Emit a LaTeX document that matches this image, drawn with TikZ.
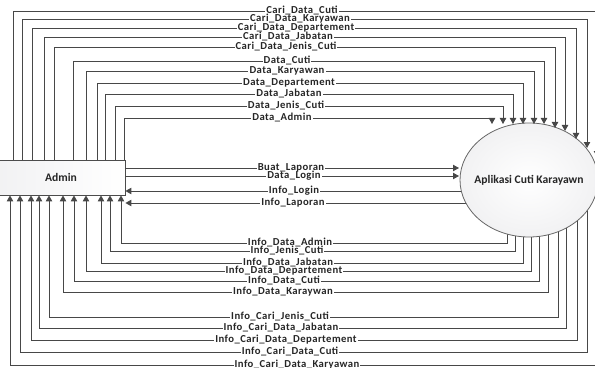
\documentclass[tikz,border=0pt]{standalone}
\usepackage{fontspec}
\setmainfont{Carlito}
\newfontfamily\lblfont[LetterSpace=4]{Carlito}
\usetikzlibrary{arrows.meta,shapes.geometric}
\pgfdeclarelayer{background}
\pgfsetlayers{background,main}
\tikzset{
  conn/.style={draw=black!72, line width=0.7pt},
  arr/.style={conn, -{Triangle[length=4.5pt,width=4.8pt]}},
  lbl/.style={font=\lblfont\bfseries\fontsize{8}{9}\selectfont, fill=white, inner xsep=0.8pt, inner ysep=0.6pt,
    text height=3.4pt, text depth=0pt, text=black!85},
  adminbox/.style={draw=black!70, line width=0.6pt, left color=blue!6!gray!10, right color=white,
    minimum width=96pt, minimum height=26.25pt, inner sep=0pt},
  proc/.style={ellipse, draw=black!60, line width=0.6pt, inner color=white, outer color=blue!5!gray!10,
    minimum width=103.5pt, minimum height=85.5pt, inner sep=0pt},
  ptext/.style={font=\bfseries\fontsize{8.7}{10}\selectfont, text=black!85, inner sep=0pt}
}
\begin{document}
\begin{tikzpicture}[x=0.75pt, y=-0.75pt]
\useasboundingbox (0,0) rectangle (595,367);
\clip (0,0) rectangle (595,367);

\node[adminbox] (admin) at (61,177.5) {};
\node[ptext] (admintext) at (admin.center) {Admin};
\node[proc] (c) at (529,180) {};
\node[ptext] (ctext) at (c.center) {Aplikasi Cuti Karayawn};

% Admin -> process (top)
\foreach \t/\y/\xl/\xr/\ty/\lx [count=\i] in {
  Cari\_Data\_Cuti/11/13/597/157/302,
  Cari\_Data\_Karyawan/19/22/587/148/300,
  Cari\_Data\_Departement/28/32/576/139/296,
  Cari\_Data\_Jabatan/37/44/565/131/288,
  Cari\_Data\_Jenis\_Cuti/47/54/555/128/286,
  Data\_Cuti/61/73/544/124/287,
  Data\_Karyawan/71/86/534/124/287,
  Data\_Departement/83/97/523/124/289,
  Data\_Jabatan/94/105/513/124/289,
  Data\_Jenis\_Cuti/106/115/503/124/286,
  Data\_Admin/118/124/492/124/282}{
  \coordinate (ta\i) at (\xl,\y);
  \coordinate (tb\i) at (\xr,\y);
  \coordinate (te\i) at (\xr,\ty);
  \draw[arr] (admin.north -| ta\i) -- (ta\i) -- (tb\i) -- (te\i);
  \node[lbl] (tl\i) at (\lx,\y) {\t};
}

% middle flows
\coordinate (m1) at (459,168);
\coordinate (m2) at (459,176);
\coordinate (m3) at (0,191);
\coordinate (m4) at (0,203);
\draw[arr] (admin.east |- m1) -- (m1);
\node[lbl] (ml1) at (291,168) {Buat\_Laporan};
\draw[arr] (admin.east |- m2) -- (m2);
\node[lbl] (ml2) at (294,176) {Data\_Login};

\begin{pgfonlayer}{background}
\draw[arr] (c.center |- m3) -- (admin.east |- m3);
\node[lbl] (ml3) at (294,191) {Info\_Login};
\draw[arr] (c.center |- m4) -- (admin.east |- m4);
\node[lbl] (ml4) at (293,203) {Info\_Laporan};

% process -> Admin (bottom)
\foreach \t/\y/\xl/\xr/\lx [count=\i] in {
  Info\_Data\_Admin/243/121/507/290,
  Info\_Jenis\_Cuti/251/110/515/287,
  Info\_Data\_Jabatan/263/101/523/288,
  Info\_Data\_Departement/271/86/531/284,
  Info\_Data\_Cuti/281/74/539/284,
  Info\_Data\_Karaywan/292/63/548/283,
  Info\_Cari\_Jenis\_Cuti/317/49/558/280,
  Info\_Cari\_Data\_Jabatan/328/39/566/281,
  Info\_Cari\_Data\_Departement/340/31/577/286,
  Info\_Cari\_Data\_Cuti/352/20/587/290,
  Info\_Cari\_Data\_Karyawan/365/10/597/297}{
  \coordinate (bs\i) at (\xr,\y);
  \coordinate (be\i) at (\xl,\y);
  \draw[arr] (c.center -| bs\i) -- (bs\i) -- (be\i) -- (admin.south -| be\i);
  \node[lbl] (bl\i) at (\lx,\y) {\t};
}
\end{pgfonlayer}
\end{tikzpicture}
\end{document}
